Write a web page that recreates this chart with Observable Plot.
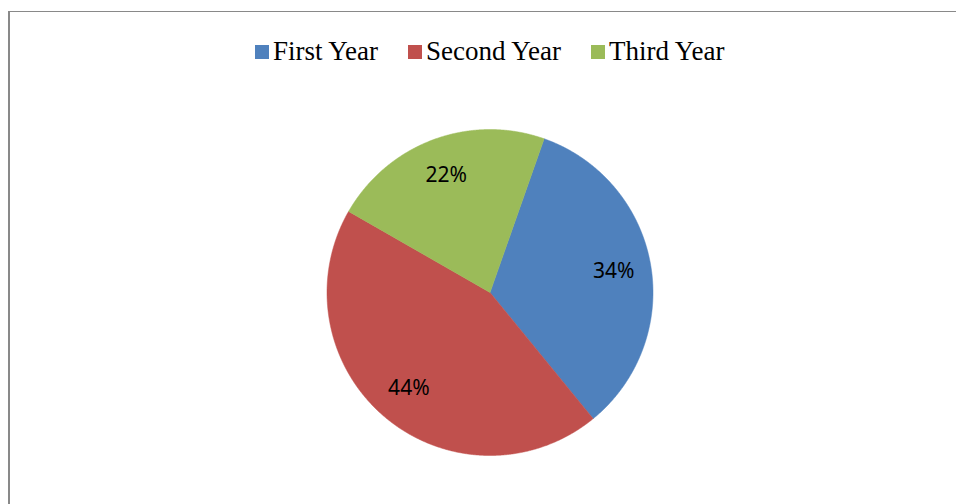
<!DOCTYPE html>
<html><head><meta charset="utf-8">
<script src="https://cdn.jsdelivr.net/npm/d3@7"></script>
<script src="https://cdn.jsdelivr.net/npm/@observablehq/plot@0.6"></script>
<style>
body{margin:0;background:#fff;}
#wrap{position:relative;width:956px;height:504px;overflow:hidden;}
#frame{position:absolute;left:8px;top:11px;width:1000px;height:600px;border-left:2px solid #898989;border-top:1px solid #898989;box-sizing:border-box;}
#legend{position:relative;height:70px;box-sizing:border-box;padding-top:33px;padding-left:255px;display:flex;font-family:"Liberation Serif",serif;font-size:27px;line-height:27px;color:#000;}
.item{display:flex;align-items:center;margin-right:30px;white-space:nowrap;}
.sw{width:14px;height:14px;margin-right:4px;flex:none;}
#chart{position:relative;height:434px;}
</style>
</head><body>
<div id="wrap"><div id="frame"></div><div id="legend"></div><div id="chart"></div></div>
<script>
const categories = ["First Year", "Second Year", "Third Year"];
const shares = [33.7, 44.2, 22.1];
const colors = ["#4F81BD", "#C0504D", "#9BBB59"];
const startAngle = 19.4; // degrees clockwise from 12 o'clock

// legend
const legend = document.getElementById("legend");
categories.forEach((c, i) => {
  const it = document.createElement("div"); it.className = "item";
  const sw = document.createElement("div"); sw.className = "sw"; sw.style.background = colors[i];
  const tx = document.createElement("span"); tx.textContent = c;
  it.appendChild(sw); it.appendChild(tx); legend.appendChild(it);
});

// build slices
const total = d3.sum(shares);
const poly = [];
const labels = [];
let a = startAngle;
categories.forEach((c, i) => {
  const span = shares[i] / total * 360;
  const a0 = a, a1 = a + span;
  poly.push({cat: c, x: 0, y: 0});
  const n = Math.ceil(span * 4);
  for (let k = 0; k <= n; k++) {
    const t = (a0 + (a1 - a0) * k / n) * Math.PI / 180;
    poly.push({cat: c, x: Math.sin(t), y: Math.cos(t)});
  }
  poly.push({cat: c, x: 0, y: 0});
  const m = (a0 + a1) / 2 * Math.PI / 180;
  labels.push({cat: c, x: 0.77 * Math.sin(m), y: 0.77 * Math.cos(m), text: Math.round(shares[i] / total * 100) + "%"});
  a = a1;
});

const W = 956, H = 434, cx = 489.5, cy = 222, R = 163;
const chart = Plot.plot({
  width: W, height: H, margin: 0,
  x: {domain: [-cx / R, (W - cx) / R], axis: null},
  y: {domain: [-(H - cy) / R, cy / R], axis: null},
  color: {domain: categories, range: colors},
  style: {background: "transparent"},
  marks: [
    Plot.line(poly, {x: "x", y: "y", z: "cat", fill: "cat", stroke: "cat", strokeWidth: 0.5, curve: "linear"}),
    Plot.text(labels, {x: "x", y: "y", text: "text", fill: "black", fontSize: 21, fontFamily: "Noto Sans"})
  ]
});
document.getElementById("chart").appendChild(chart);
</script>
</body></html>
